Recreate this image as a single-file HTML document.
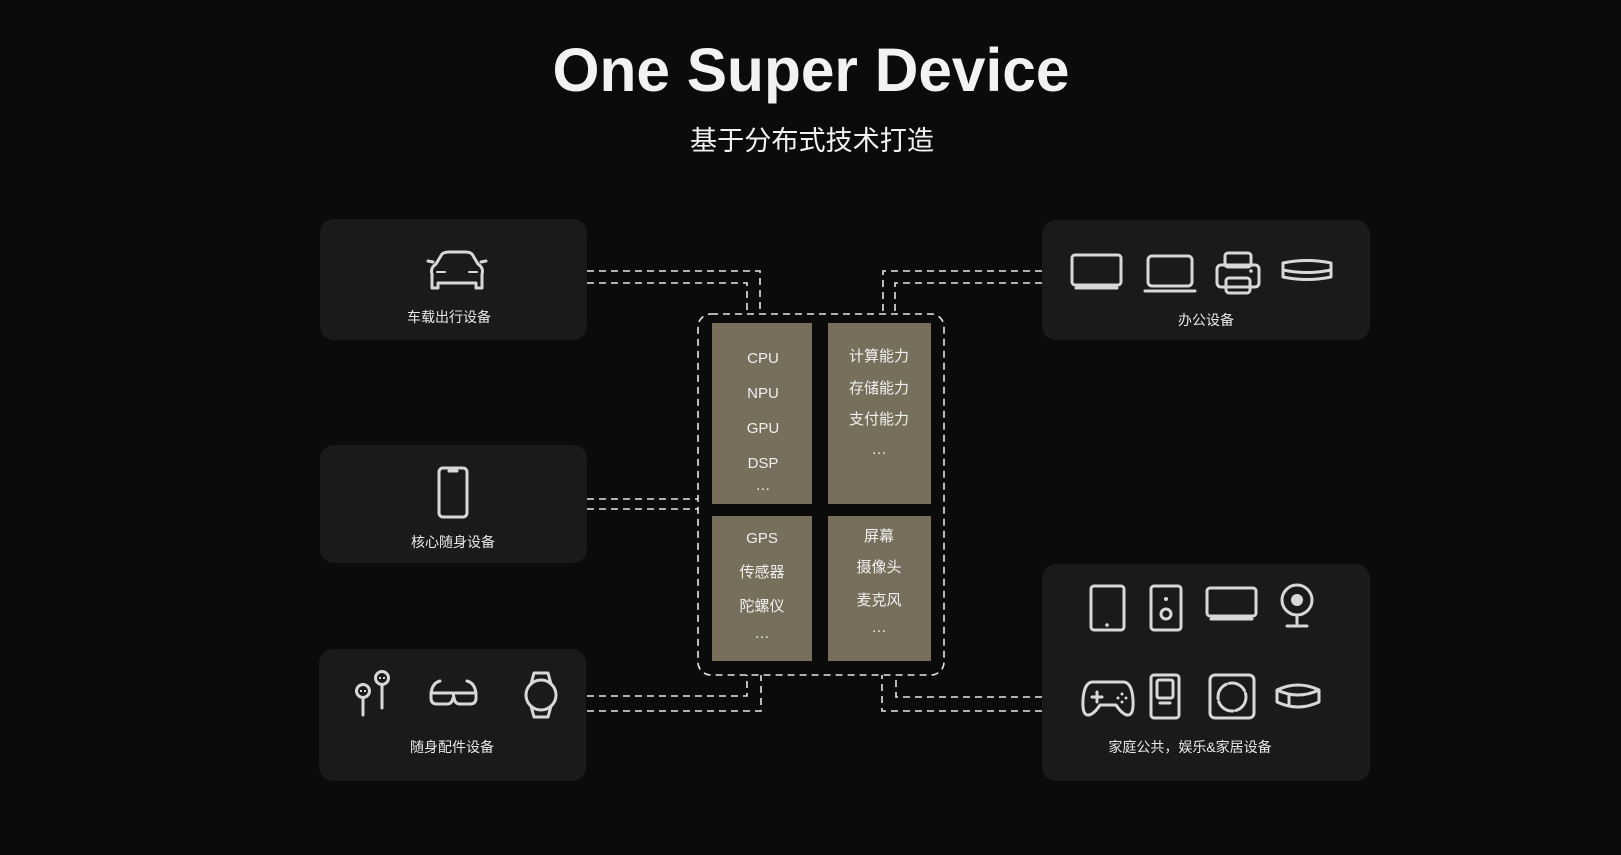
<!DOCTYPE html>
<html><head><meta charset="utf-8"><style>
html,body{margin:0;padding:0;background:#0b0b0b;}
svg{display:block;}
text{font-family:"Liberation Sans","Noto Sans CJK SC",sans-serif;fill:#f2f2f2;}
.lbl{font-size:14px;text-anchor:middle;fill:#e8e8e8;}
.in{font-size:15px;text-anchor:middle;fill:#f0f0f0;}
.ic{fill:none;stroke:#d8d8d8;stroke-width:3;stroke-linecap:round;stroke-linejoin:round;}
.d{fill:none;stroke:#e6e6e6;stroke-width:1.6;stroke-dasharray:7 5;}
</style></head><body>
<svg width="1621" height="855" viewBox="0 0 1621 855" xmlns="http://www.w3.org/2000/svg">
<rect width="1621" height="855" fill="#0b0b0b"/>
<text x="811" y="91" font-size="61" font-weight="bold" text-anchor="middle" textLength="517" lengthAdjust="spacingAndGlyphs" fill="#fff">One Super Device</text>
<text x="812" y="150" font-size="27" text-anchor="middle" textLength="244" lengthAdjust="spacingAndGlyphs">基于分布式技术打造</text>

<g fill="#1a1a1a">
<rect x="320" y="219" width="267" height="121" rx="14"/>
<rect x="320" y="445" width="267" height="118" rx="14"/>
<rect x="319" y="649" width="267" height="132" rx="14"/>
<rect x="1042" y="220" width="328" height="120" rx="14"/>
<rect x="1042" y="564" width="328" height="217" rx="14"/>
</g>

<path class="d" d="M587 271 H760 V314"/>
<path class="d" d="M587 283 H747 V314"/>
<path class="d" d="M587 499 H698"/>
<path class="d" d="M587 509 H698"/>
<path class="d" d="M587 696 H747 V675"/>
<path class="d" d="M587 711 H761 V675"/>
<path class="d" d="M1042 271 H883 V314"/>
<path class="d" d="M1042 283 H895 V314"/>
<path class="d" d="M1042 697 H896 V675"/>
<path class="d" d="M1042 711 H882 V675"/>

<rect x="698" y="314" width="246" height="361" rx="13" class="d"/>
<g fill="#776f5c">
<rect x="712" y="323" width="100" height="181"/>
<rect x="828" y="323" width="103" height="181"/>
<rect x="712" y="516" width="100" height="145"/>
<rect x="828" y="516" width="103" height="145"/>
</g>
<text class="in" x="763" y="363">CPU</text>
<text class="in" x="763" y="398">NPU</text>
<text class="in" x="763" y="433">GPU</text>
<text class="in" x="763" y="468">DSP</text>
<text class="in" x="763" y="490">…</text>
<text class="in" x="879" y="361">计算能力</text>
<text class="in" x="879" y="393">存储能力</text>
<text class="in" x="879" y="424">支付能力</text>
<text class="in" x="879" y="454">…</text>
<text class="in" x="762" y="543">GPS</text>
<text class="in" x="762" y="577">传感器</text>
<text class="in" x="762" y="611">陀螺仪</text>
<text class="in" x="762" y="638">…</text>
<text class="in" x="879" y="541">屏幕</text>
<text class="in" x="879" y="572">摄像头</text>
<text class="in" x="879" y="605">麦克风</text>
<text class="in" x="879" y="632">…</text>

<text class="lbl" x="449" y="322">车载出行设备</text>
<text class="lbl" x="453" y="547">核心随身设备</text>
<text class="lbl" x="452" y="752">随身配件设备</text>
<text class="lbl" x="1206" y="325">办公设备</text>
<text class="lbl" x="1190" y="752">家庭公共，娱乐&amp;家居设备</text>

<g class="ic">
<path d="M432 288 V274 Q430 268 436 264 L442 254 Q444 252 450 252 H465 Q470 252 472 254 L478 264 Q484 268 482 274 V288 H476 V283 H438 V288 Z"/>
<path d="M433 262 L428 261 M481 262 L486 261"/>
<path d="M437 272 H445 M469 272 H477" stroke-width="2"/>
</g>
<rect class="ic" x="439" y="468" width="28" height="49" rx="4"/>
<path class="ic" d="M449 471 H457"/>
<g class="ic">
<circle cx="363" cy="691" r="6.5"/><path d="M363 698 V715"/>
<circle cx="382" cy="678" r="6.5"/><path d="M382 685 V708"/>
</g>
<g fill="#d8d8d8"><rect x="360" y="690" width="2" height="2"/><rect x="364" y="690" width="2" height="2"/><rect x="379" y="677" width="2" height="2"/><rect x="383" y="677" width="2" height="2"/></g>
<g class="ic">
<path d="M431 694 Q432 683 440 681 M476 694 Q475 683 467 681"/>
<path d="M431 693 H476 V698 Q476 704 470 704 H460 Q455 704 454 698 L453 693 M431 693 V698 Q431 704 437 704 H447 Q452 704 453 698"/>
</g>
<g class="ic">
<ellipse cx="541" cy="695" rx="15" ry="15"/>
<path d="M531 684 L534 673 H548 L551 684 M531 706 L534 717 H548 L551 706"/>
</g>

<g class="ic">
<rect x="1072" y="255" width="49" height="30" rx="3"/><path d="M1076 288 H1117" stroke-width="3"/>
<rect x="1148" y="256" width="44" height="30" rx="4"/><path d="M1145 291 H1195"/>
<rect x="1225" y="253" width="26" height="14" rx="3"/>
<rect x="1217" y="265" width="42" height="22" rx="4"/>
<rect x="1226" y="278" width="24" height="15" rx="3"/>
<path d="M1283 263 Q1307 258 1331 263 V277 Q1307 282 1283 277 Z M1283 270 Q1307 275 1331 270"/>
</g>
<circle cx="1251" cy="271" r="1.8" fill="#d8d8d8"/>
<g class="ic">
<rect x="1091" y="586" width="33" height="44" rx="3"/>
<rect x="1151" y="586" width="30" height="44" rx="3"/><circle cx="1166" cy="614" r="5"/>
<rect x="1207" y="588" width="49" height="28" rx="3"/><path d="M1211 619 H1252" stroke-width="3"/>
<circle cx="1297" cy="600" r="15"/><path d="M1297 615 V626 M1287 626 H1307"/>
</g>
<g fill="#d8d8d8"><circle cx="1107" cy="625" r="1.8"/><circle cx="1166" cy="599" r="2"/><circle cx="1297" cy="600" r="6"/></g>
<g class="ic">
<path d="M1092 682 Q1084 683 1083 700 Q1082 716 1089 715 Q1094 714 1100 705 H1116 Q1122 714 1127 715 Q1134 716 1133 700 Q1132 683 1124 682 Z"/>
<path d="M1097 692 V702 M1092 697 H1102"/>
<rect x="1151" y="675" width="28" height="43" rx="3"/><rect x="1157" y="680" width="16" height="18" rx="2"/><path d="M1160 703 H1170"/>
<rect x="1210" y="675" width="44" height="43" rx="5"/>
<circle cx="1232" cy="697" r="14" stroke-dasharray="18 3"/>
<path d="M1277 690 Q1298 680 1319 690 V702 Q1298 712 1277 702 Z M1277 690 Q1298 700 1319 690 M1289 706 V695"/>
</g>
<g fill="#d8d8d8"><circle cx="1122" cy="694" r="1.5"/><circle cx="1126" cy="698" r="1.5"/><circle cx="1118" cy="698" r="1.5"/><circle cx="1122" cy="702" r="1.5"/></g>
</svg>
</body></html>
